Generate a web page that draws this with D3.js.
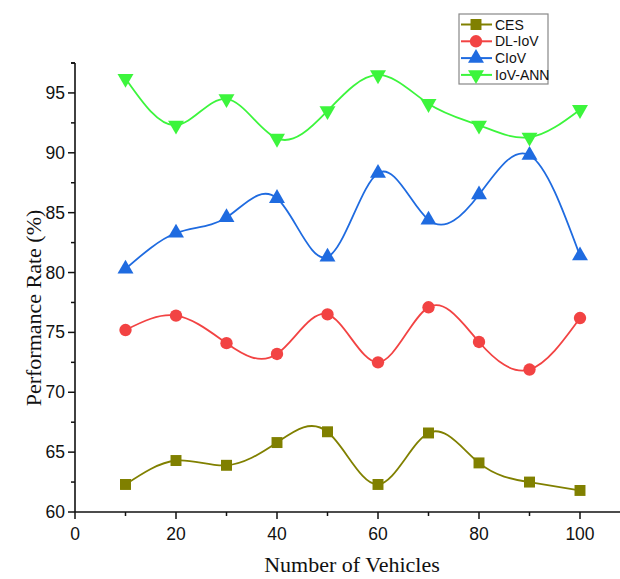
<!DOCTYPE html>
<html lang="en">
<head>
    <meta charset="UTF-8">
    <title>Performance Rate vs Number of Vehicles</title>
    <script src="https://d3js.org/d3.v7.min.js"></script>
    <style>
        body { margin: 0; background: #fff; }
    </style>
</head>
<body>
    <script>
        let width = 620;
        let height = 579;

        // data
        const vehicles = [10, 20, 30, 40, 50, 60, 70, 80, 90, 100];
        const ces = [62.3, 64.3, 63.9, 65.8, 66.7, 62.3, 66.6, 64.1, 62.5, 61.8];
        const dlIov = [75.2, 76.4, 74.1, 73.2, 76.5, 72.5, 77.1, 74.2, 71.9, 76.2];
        const ciov = [80.3, 83.3, 84.6, 86.2, 81.3, 88.3, 84.4, 86.5, 89.8, 81.4];
        const iovAnn = [96.2, 92.3, 94.5, 91.2, 93.5, 96.5, 94.1, 92.3, 91.3, 93.6];

        const seriesNames = ["CES", "DL-IoV", "CIoV", "IoV-ANN"];
        const seriesColors = ["#808000", "#f24343", "#1f6be0", "#3cf53c"];
        const seriesShapes = ["square", "circle", "up", "down"];
        const seriesValues = [ces, dlIov, ciov, iovAnn];

        const xTicks = [0, 20, 40, 60, 80, 100];
        const yTicks = [60, 65, 70, 75, 80, 85, 90, 95];

        let svg = d3.select("body")
            .append("svg")
            .attr("width", width)
            .attr("height", height);

        let x = d3.scaleLinear().domain([0, 100]).range([75, 580]);
        let y = d3.scaleLinear().domain([60, 97.5]).range([512, 63]);

        // axes
        let axisColor = "#111";
        svg.append("line")
            .attr("x1", x(0)).attr("x2", width)
            .attr("y1", y(60)).attr("y2", y(60))
            .attr("stroke", axisColor).attr("stroke-width", 1.6);
        svg.append("line")
            .attr("x1", x(0)).attr("x2", x(0))
            .attr("y1", y(60)).attr("y2", y(97.5))
            .attr("stroke", axisColor).attr("stroke-width", 1.6);
        // little cap at the top of y axis
        svg.append("line")
            .attr("x1", x(0) - 4).attr("x2", x(0))
            .attr("y1", y(97.5)).attr("y2", y(97.5))
            .attr("stroke", axisColor).attr("stroke-width", 1.6);

        // x ticks
        let xMinor = d3.range(10, 101, 20);
        svg.selectAll(".xmaj").data(xTicks).enter().append("line")
            .attr("x1", d => x(d)).attr("x2", d => x(d))
            .attr("y1", y(60)).attr("y2", y(60) + 7)
            .attr("stroke", axisColor).attr("stroke-width", 1.5);
        svg.selectAll(".xmin").data(xMinor).enter().append("line")
            .attr("x1", d => x(d)).attr("x2", d => x(d))
            .attr("y1", y(60)).attr("y2", y(60) + 4)
            .attr("stroke", axisColor).attr("stroke-width", 1.5);
        svg.selectAll(".xlab").data(xTicks).enter().append("text")
            .attr("x", d => x(d)).attr("y", y(60) + 28)
            .attr("text-anchor", "middle")
            .style("font-family", "Liberation Sans, Arial, sans-serif")
            .style("font-size", "17.5px")
            .style("fill", "#111")
            .text(d => d);

        // y ticks
        let yMinor = d3.range(62.5, 97.6, 5);
        svg.selectAll(".ymaj").data(yTicks).enter().append("line")
            .attr("x1", x(0) - 7).attr("x2", x(0))
            .attr("y1", d => y(d)).attr("y2", d => y(d))
            .attr("stroke", axisColor).attr("stroke-width", 1.5);
        svg.selectAll(".ymin").data(yMinor).enter().append("line")
            .attr("x1", x(0) - 4).attr("x2", x(0))
            .attr("y1", d => y(d)).attr("y2", d => y(d))
            .attr("stroke", axisColor).attr("stroke-width", 1.5);
        svg.selectAll(".ylab").data(yTicks).enter().append("text")
            .attr("x", x(0) - 10).attr("y", d => y(d) + 6)
            .attr("text-anchor", "end")
            .style("font-family", "Liberation Sans, Arial, sans-serif")
            .style("font-size", "17.5px")
            .style("fill", "#111")
            .text(d => d);

        // axis titles
        svg.append("text")
            .attr("x", 352).attr("y", 572)
            .attr("text-anchor", "middle")
            .style("font-family", "Liberation Serif, Times New Roman, serif")
            .style("font-size", "22px")
            .style("fill", "#111")
            .text("Number of Vehicles");
        svg.append("text")
            .attr("transform", "translate(41,308) rotate(-90)")
            .attr("text-anchor", "middle")
            .style("font-family", "Liberation Serif, Times New Roman, serif")
            .style("font-size", "22px")
            .style("fill", "#111")
            .text("Performance Rate (%)");

        // marker symbols
        function symbolFor(shape) {
            if (shape === "square") return d3.symbol().type(d3.symbolSquare).size(120);
            if (shape === "circle") return d3.symbol().type(d3.symbolCircle).size(120);
            return d3.symbol().type(d3.symbolTriangle).size(110);
        }
        function markerTransform(shape, px, py) {
            if (shape === "down") return "translate(" + px + "," + (py) + ") rotate(180)";
            return "translate(" + px + "," + py + ")";
        }

        let line = d3.line()
            .x(d => x(d[0]))
            .y(d => y(d[1]))
            .curve(d3.curveNatural);

        seriesValues.forEach((vals, i) => {
            let pts = vehicles.map((v, j) => [v, vals[j]]);
            svg.append("path")
                .datum(pts)
                .attr("d", line)
                .style("fill", "none")
                .style("stroke", seriesColors[i])
                .style("stroke-width", 1.8);

            svg.selectAll(".m" + i).data(pts).enter().append("path")
                .attr("d", symbolFor(seriesShapes[i]))
                .attr("transform", d => markerTransform(seriesShapes[i], x(d[0]), y(d[1])))
                .style("fill", seriesColors[i]);
        });

        // legend
        let legend = svg.append("g").attr("transform", "translate(459,14)");
        legend.append("rect")
            .attr("width", 89).attr("height", 70)
            .style("fill", "#fff")
            .style("stroke", "#888")
            .style("stroke-width", 1.2);
        seriesNames.forEach((name, i) => {
            let ly = 10.5 + i * 16.8;
            legend.append("line")
                .attr("x1", 2).attr("x2", 33)
                .attr("y1", ly).attr("y2", ly)
                .style("stroke", seriesColors[i])
                .style("stroke-width", 2);
            legend.append("path")
                .attr("d", symbolFor(seriesShapes[i]))
                .attr("transform", markerTransform(seriesShapes[i], 17, ly))
                .style("fill", seriesColors[i]);
            legend.append("text")
                .attr("x", 36).attr("y", ly + 5)
                .style("font-family", "Liberation Sans, Arial, sans-serif")
                .style("font-size", "14px")
                .style("fill", "#111")
                .text(name);
        });
    </script>
</body>
</html>
